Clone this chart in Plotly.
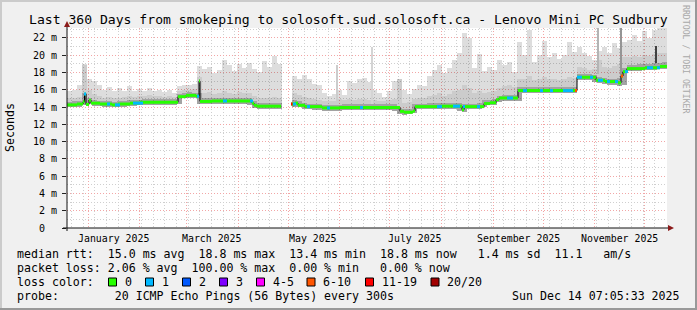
import numpy as np
import pandas as pd
import plotly.graph_objects as go

# ---------------- data ----------------
START = pd.Timestamp("2024-12-19 07:05:33")
END = pd.Timestamp("2025-12-14 07:05:33")
BIN_DAYS = 3  # smoke bins, 120 x 3 days

nan = float("nan")
smoke_min = [13.95, 14.0, 14.05, 14.2, 14.3, 14.15, 14.1, 14.05, 14.05, 13.95,
             14.0, 14.05, 14.15, 14.15, 14.2, 14.25, 14.25, 14.25, 14.25, 14.25,
             14.25, 14.2, 14.3, 15.0, 15.05, 15.0, 14.35, 14.35, 14.35, 14.4,
             14.4, 14.4, 14.4, 14.4, 14.4, 14.4, 14.2, 13.9, 13.8, 13.8,
             13.8, 13.8, 13.8, nan, nan, 14.05, 13.95, 13.8, 13.75, 13.7,
             13.7, 13.6, 13.6, 13.6, 13.6, 13.65, 13.65, 13.65, 13.65, 13.65,
             13.65, 13.65, 13.65, 13.65, 13.65, 13.5, 13.15, 13.1, 13.15, 13.3,
             13.75, 13.75, 13.8, 13.8, 13.8, 13.8, 13.8, 13.8, 13.55, 13.45,
             13.75, 13.75, 13.8, 14.05, 14.2, 14.25, 14.6, 14.75, 14.75, 14.75,
             14.75, 15.6, 15.6, 15.6, 15.6, 15.6, 15.6, 15.6, 15.6, 15.6,
             15.6, 15.6, 17.15, 17.15, 17.15, 16.9, 16.75, 16.65, 16.6, 16.5,
             16.45, 16.6, 18.15, 18.15, 18.2, 18.25, 18.25, 18.3, 18.4, 18.45]
smoke_q3 = [14.6, 14.65, 14.7, 15.6, 15.1, 14.8, 14.75, 14.7, 14.7, 14.6,
            14.65, 14.7, 14.8, 14.8, 14.85, 14.9, 14.9, 14.9, 14.9, 14.9,
            14.9, 14.9, 15.55, 15.65, 15.7, 15.65, 15.6, 15.0, 15.0, 15.05,
            15.05, 15.05, 15.05, 15.05, 15.05, 15.05, 15.0, 14.7, 14.45, 14.45,
            14.45, 14.45, 14.45, nan, nan, 14.8, 14.65, 14.45, 14.4, 14.35,
            14.35, 14.25, 14.25, 14.25, 14.25, 14.3, 14.3, 14.3, 14.3, 14.3,
            14.3, 14.3, 14.3, 14.3, 14.3, 14.3, 13.9, 13.75, 13.8, 14.4,
            14.4, 14.4, 14.45, 14.45, 14.45, 14.45, 14.45, 14.45, 14.45, 14.4,
            14.4, 14.4, 14.5, 14.8, 14.85, 14.9, 15.3, 15.4, 15.4, 15.45,
            16.3, 16.3, 16.3, 16.3, 16.3, 16.3, 16.3, 16.3, 16.3, 16.3,
            16.3, 16.3, 17.85, 17.85, 17.85, 17.75, 17.45, 17.35, 17.3, 17.2,
            17.4, 18.5, 18.9, 18.9, 18.95, 19.0, 19.0, 19.05, 19.15, 19.2]
smoke_p90 = [15.0, 15.1, 15.2, 18.9, 16.0, 15.5, 15.3, 15.1, 15.2, 15.0,
             15.1, 15.2, 15.3, 15.2, 15.3, 15.3, 15.4, 15.3, 15.3, 15.2,
             15.3, 15.2, 15.9, 16.0, 16.0, 16.1, 17.5, 15.6, 15.7, 15.5,
             15.6, 15.8, 15.6, 15.5, 15.7, 15.6, 15.6, 15.3, 15.0, 15.1,
             15.0, 15.2, 15.0, nan, nan, 15.6, 15.4, 15.2, 15.0, 14.9,
             14.8, 14.7, 14.7, 14.7, 14.9, 14.8, 14.9, 14.8, 14.9, 14.9,
             14.8, 14.8, 14.7, 14.7, 14.8, 14.9, 17.2, 14.5, 14.6, 14.9,
             15.0, 15.0, 15.3, 15.4, 15.6, 15.3, 15.5, 15.8, 16.0, 16.5,
             16.2, 15.6, 15.9, 15.6, 15.7, 15.8, 16.2, 16.4, 16.6, 16.3,
             17.3, 17.2, 17.6, 17.1, 17.2, 17.5, 17.2, 17.3, 17.1, 17.3,
             17.5, 17.4, 18.6, 18.5, 18.3, 18.4, 19.5, 18.6, 18.5, 18.7,
             19.0, 19.8, 19.8, 19.9, 19.8, 20.0, 19.9, 20.1, 20.2, 20.3]
smoke_max = [15.9, 16.0, 16.6, 19.0, 17.2, 17.0, 16.6, 16.0, 16.3, 15.9,
             16.2, 15.9, 16.4, 15.8, 16.1, 15.9, 16.2, 15.8, 16.0, 15.7,
             16.0, 15.6, 16.4, 16.6, 16.5, 16.7, 18.7, 18.4, 18.6, 17.9,
             18.3, 19.4, 18.9, 18.2, 19.0, 18.5, 19.1, 18.4, 18.0, 19.3,
             18.6, 19.9, 19.0, nan, nan, 17.6, 17.3, 17.7, 17.2, 16.7,
             16.5, 15.6, 15.3, 15.5, 16.0, 15.4, 17.0, 16.8, 17.2, 17.4,
             16.9, 16.0, 15.6, 15.2, 15.8, 17.0, 17.3, 16.0, 15.5, 16.1,
             16.6, 16.4, 17.6, 18.3, 18.9, 17.9, 18.5, 19.5, 20.2, 22.6,
             22.0, 18.5, 20.1, 18.2, 18.6, 18.3, 19.4, 18.9, 19.2, 18.0,
             21.5, 20.0, 22.9, 19.2, 20.0, 21.6, 19.8, 20.2, 19.6, 20.0,
             21.5, 20.4, 21.0, 20.2, 19.9, 19.4, 20.5, 21.0, 20.2, 21.4,
             20.8, 21.5, 21.8, 22.3, 21.7, 22.8, 22.0, 22.9, 23.2, 23.2]

# isolated thin smoke spikes (day offset, bottom ms, top ms, shade)
spike_day = [162.0, 183.0, 318.6, 332.4, 353.4]
spike_low = [14.3, 14.3, 17.8, 17.4, 19.1]
spike_high = [18.9, 21.0, 23.1, 23.1, 21.1]
spike_shade = ["#cccccc", "#d4d4d4", "#b4b4b4", "#959595", "#404040"]

# median rtt as a step series (day offset from START, ms)
med_day = [0, 6.0, 9.6, 10.5, 11.4, 13.2, 14.4, 19.8, 27.0, 30.6, 37.8, 43.8,
           66.6, 71.4, 77.4, 79.2, 79.8, 87.0, 111.0, 112.2, 114.0, 128.4,
           134.4, 136.8, 138.6, 142.8, 153.0, 163.8, 199.8, 202.2, 207.6, 208.8,
           223.8, 237.0, 238.2, 250.2, 253.8, 257.4, 259.2, 270.6, 306.0, 317.4,
           322.8, 330.6, 332.4, 333.6, 336.0, 346.8, 355.8, 360.0]
med_val = [14.25, 14.35, 14.6, 15.5, 14.3, 14.8, 14.45, 14.35, 14.25, 14.35, 14.45, 14.55,
           15.2, 15.35, 15.25, 17.0, 14.65, 14.7, 14.45, 14.2, 14.1, nan,
           14.35, 14.45, 14.2, 14.05, 13.9, 13.95, 13.5, 13.4, 13.55, 14.05,
           14.1, 13.7, 14.05, 14.4, 14.5, 14.85, 15.05, 15.9, 17.45, 17.1,
           16.95, 16.8, 17.6, 18.1, 18.45, 18.55, 18.7, 18.8]

# periods with packet loss (day offsets) and their loss class
loss_start = [10.2, 24.0, 28.8, 39.6, 78.0, 93.6, 109.8, 134.4, 135.6, 144.0, 156.0, 175.8,
              222.0, 231.6, 237.6, 246.0, 264.0, 273.6, 283.8, 289.8, 297.6, 304.8,
              306.0, 313.8, 318.6, 324.0, 328.8, 332.4, 334.8, 348.0, 354.0]
loss_end = [11.4, 25.8, 31.8, 45.6, 79.2, 96.0, 111.6, 135.3, 137.4, 145.8, 157.8, 177.6,
            225.0, 235.8, 238.8, 247.8, 267.6, 276.0, 285.6, 291.6, 303.6, 306.0,
            309.0, 315.6, 321.6, 325.8, 330.6, 333.6, 336.6, 351.6, 355.8]
loss_class = ["1", "1", "1", "1", "1", "1", "1", "11-19", "1", "1", "1", "1",
              "1", "1", "1", "1", "1", "1", "1", "1", "1", "6-10",
              "1", "1", "1", "1", "1", "6-10", "1", "1", "1"]

loss_labels = ["0", "1", "2", "3", "4-5", "6-10", "11-19", "20/20"]
loss_colors = ["#26ff00", "#00b8ff", "#0059ff", "#7e00ff", "#ff00ff", "#ff5500", "#ff0000", "#a10000"]

y_ticks = [0, 2, 4, 6, 8, 10, 12, 14, 16, 18, 20, 22]
y_ticktext = ["0\u00a0\u00a0"] + [f"{v} m" for v in y_ticks[1:]]
month_labels = ["January 2025", "March 2025", "May 2025", "July 2025", "September 2025", "November 2025"]
month_label_dates = ["2025-01-16", "2025-03-16", "2025-05-16", "2025-07-16", "2025-09-16", "2025-11-16"]

title_text = "Last 360 Days from smokeping to solosoft.sud.solosoft.ca - Lenovo Mini PC Sudbury"
line_rtt = "median rtt:  15.0 ms avg  18.8 ms max  13.4 ms min  18.8 ms now   1.4 ms sd  11.1   am/s"
line_loss = "packet loss: 2.06 % avg  100.00 % max  0.00 % min   0.00 % now"
line_probe = "probe:        20 ICMP Echo Pings (56 Bytes) every 300s"
stamp = "Sun Dec 14 07:05:33 2025"

# ---------------- geometry ----------------
W, H = 697, 310
PL, PR, PT, PB = 67, 667, 28, 228
FONT = "DejaVu Sans Mono"


def P(x):
    return (x - PL) / (PR - PL)


def Q(y):
    return (PB - y) / (PB - PT)


def day(d):
    return START + pd.Timedelta(days=float(d))


fig = go.Figure()

# smoke bars
n = len(smoke_max)
centers = [day(BIN_DAYS * i + BIN_DAYS / 2) for i in range(n)]
bw = BIN_DAYS * 86400 * 1000
mn, q3, p9, mx = map(np.array, (smoke_min, smoke_q3, smoke_p90, smoke_max))
for lo, hi, col in [(mn, q3, "rgba(0,0,0,0.36)"), (q3, p9, "rgba(0,0,0,0.2)"), (p9, mx, "rgba(0,0,0,0.135)")]:
    fig.add_trace(go.Bar(x=centers, base=lo, y=np.maximum(hi - lo, 0), width=bw,
                         marker=dict(color=col, line=dict(width=0)), hoverinfo="skip", showlegend=False))

fig.add_trace(go.Bar(x=[day(d) for d in spike_day], base=spike_low,
                     y=np.array(spike_high) - np.array(spike_low), width=0.6 * 86400 * 1000,
                     marker=dict(color=spike_shade, line=dict(width=0)), hoverinfo="skip", showlegend=False))

# median black step line
fig.add_trace(go.Scatter(x=[day(d) for d in med_day], y=med_val, mode="lines",
                         line=dict(color="black", width=1, shape="hv"), connectgaps=False,
                         hoverinfo="skip", showlegend=False))

# green (no loss) horizontal segments
gx, gy = [], []
for k in range(len(med_day) - 1):
    v = med_val[k]
    if np.isnan(v):
        continue
    gx += [day(med_day[k]), day(med_day[k + 1]), None]
    gy += [v, v, None]
fig.add_trace(go.Scatter(x=gx, y=gy, mode="lines", line=dict(color=loss_colors[0], width=3),
                         hoverinfo="skip", showlegend=False))

# loss-coloured overlays
md = np.array(med_day)
for a, b, c in zip(loss_start, loss_end, loss_class):
    k = int(np.searchsorted(md, (a + b) / 2, side="right") - 1)
    v = med_val[k]
    if np.isnan(v):
        v = med_val[k + 1]
    col = loss_colors[loss_labels.index(c)]
    fig.add_trace(go.Scatter(x=[day(a), day(b)], y=[v, v], mode="lines",
                             line=dict(color=col, width=3), hoverinfo="skip", showlegend=False))

# ---------------- axes ----------------
month_starts = pd.date_range("2025-01-01", "2025-12-01", freq="MS")
weeks = pd.date_range("2024-12-22", END, freq="7D")
fig.update_xaxes(type="date", range=[START, END], tickvals=month_starts, showticklabels=False,
                 showgrid=True, gridcolor="#f2a6a6", griddash="1px,2px", gridwidth=1,
                 minor=dict(tickvals=weeks, showgrid=True, gridcolor="#cfcfcf", griddash="1px,2px", gridwidth=1),
                 zeroline=False, showline=False, ticks="")
fig.update_yaxes(range=[0, 200 / 8.64], tickvals=y_ticks, ticktext=y_ticktext,
                 showgrid=True, gridcolor="#f2a6a6", griddash="1px,2px", gridwidth=1,
                 minor=dict(dtick=1, showgrid=True, gridcolor="#cfcfcf", griddash="1px,2px", gridwidth=1),
                 zeroline=False, showline=False, ticks="outside", ticklen=4, tickcolor="#222",
                 ticklabelstandoff=3,
                 tickfont=dict(family=FONT, size=10, color="black"))

# ---------------- decorations ----------------
shapes = []
# outer 3D frame
shapes.append(dict(type="line", xref="paper", yref="paper", x0=P(0), x1=P(W), y0=Q(1), y1=Q(1), line=dict(color="#cbcbcb", width=2)))
shapes.append(dict(type="line", xref="paper", yref="paper", x0=P(1), x1=P(1), y0=Q(0), y1=Q(H), line=dict(color="#cbcbcb", width=2)))
shapes.append(dict(type="line", xref="paper", yref="paper", x0=P(0), x1=P(W), y0=Q(H - 1), y1=Q(H - 1), line=dict(color="#999999", width=2)))
shapes.append(dict(type="line", xref="paper", yref="paper", x0=P(W - 1), x1=P(W - 1), y0=Q(0), y1=Q(H), line=dict(color="#999999", width=2)))
# axes
shapes.append(dict(type="line", xref="paper", yref="paper", x0=P(63), x1=P(670), y0=Q(228), y1=Q(228), line=dict(color="#111", width=1), layer="above"))
shapes.append(dict(type="line", xref="paper", yref="paper", x0=P(67), x1=P(67), y0=Q(231), y1=Q(25), line=dict(color="#111", width=1), layer="above"))
shapes.append(dict(type="path", xref="paper", yref="paper",
                   path=f"M {P(64)},{Q(27)} L {P(70)},{Q(27)} L {P(67)},{Q(21)} Z",
                   fillcolor="#8b1a1a", line=dict(width=0), layer="above"))
shapes.append(dict(type="path", xref="paper", yref="paper",
                   path=f"M {P(668)},{Q(225)} L {P(668)},{Q(231)} L {P(674)},{Q(228)} Z",
                   fillcolor="#8b1a1a", line=dict(width=0), layer="above"))
# loss colour legend boxes
box_x = [108.5, 145.5, 182.5, 219.5, 256.5, 307, 365.5, 431]
for bx, col in zip(box_x, loss_colors):
    shapes.append(dict(type="rect", xref="paper", yref="paper", x0=P(bx), x1=P(bx + 8), y0=Q(286), y1=Q(278),
                       fillcolor=col, line=dict(color="black", width=1)))

annotations = []


def ann(text, x, y, size, xanchor="left", color="black", angle=0):
    annotations.append(dict(text=text.replace(" ", "\u00a0"), x=P(x), y=Q(y), xref="paper", yref="paper",
                            xanchor=xanchor, yanchor="middle", showarrow=False, textangle=angle,
                            font=dict(family=FONT, size=size, color=color), borderpad=0))


ann(title_text, 348, 19, 13.1, xanchor="center")
ann("Seconds", 10, 128, 11.6, xanchor="center", angle=-90)
ann("RRDTOOL / TOBI OETIKER", 686, 59, 8.2, xanchor="center", color="#a8a8a8", angle=90)
ann(line_rtt, 16, 254, 11.6)
ann(line_loss, 16, 268, 11.6)
ann("loss color:", 16, 282, 11.6)
for bx, lab in zip(box_x, loss_labels):
    ann(lab, bx + 15, 282, 11.6)
ann(line_probe, 16, 296, 11.6)
ann(stamp, 681, 296, 11.6, xanchor="right")
for lab, dt in zip(month_labels, month_label_dates):
    annotations.append(dict(text=lab, x=pd.Timestamp(dt), y=Q(238.5), xref="x", yref="paper",
                            xanchor="center", yanchor="middle", showarrow=False,
                            font=dict(family=FONT, size=9.9, color="black")))

fig.update_layout(width=W, height=H, autosize=False,
                  margin=dict(l=PL, r=W - PR, t=PT, b=H - PB, pad=0),
                  paper_bgcolor="#f0f0f0", plot_bgcolor="#ffffff",
                  barmode="overlay", bargap=0, showlegend=False,
                  shapes=shapes, annotations=annotations,
                  font=dict(family=FONT))

fig.write_html("out.html")
